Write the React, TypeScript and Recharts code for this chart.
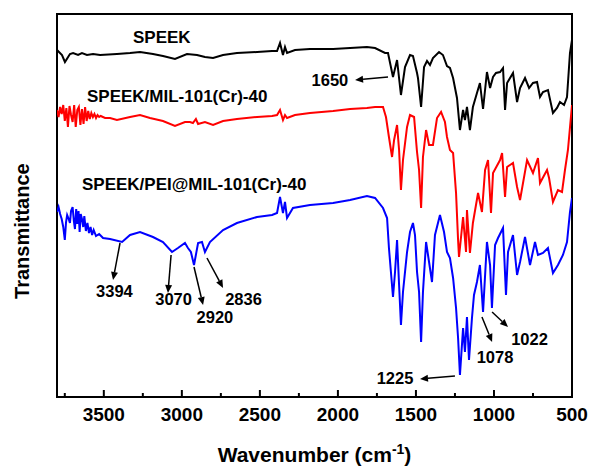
import React from 'react';
import { LineChart, Line, XAxis, YAxis, ReferenceArea, ReferenceDot, ReferenceLine } from 'recharts';

// wavenumber (cm-1) and transmittance (a.u., curves offset)
const speekWn = [3800, 3768, 3749, 3717, 3697, 3665, 3640, 3608, 3569, 3524, 3416, 3332, 3268, 3185, 3121, 3044, 2967, 2903, 2852, 2800, 2736, 2647, 2518, 2422, 2390, 2371, 2352, 2339, 2326, 2275, 2179, 2031, 1922, 1814, 1762, 1698, 1679, 1647, 1621, 1596, 1570, 1538, 1519, 1493, 1487, 1467, 1448, 1429, 1410, 1391, 1352, 1327, 1301, 1282, 1262, 1237, 1218, 1198, 1186, 1173, 1154, 1135, 1109, 1090, 1070, 1045, 1025, 1006, 987, 961, 942, 929, 916, 878, 852, 833, 801, 775, 750, 724, 705, 686, 654, 622, 596, 577, 551, 532, 513, 500];
const speekT = [347, 342, 335, 343, 344, 342, 344, 342, 343, 342, 343, 344, 345, 343, 341, 338, 343, 342, 340, 339, 342, 344, 345, 346, 346, 354, 342, 350, 344, 347, 348, 348, 349, 350, 349, 344, 344, 320, 337, 302, 330, 342, 341, 324, 319, 290, 330, 336, 332, 339, 345, 342, 331, 329, 319, 299, 267, 287, 277, 290, 267, 290, 304, 314, 288, 325, 309, 320, 324, 325, 329, 287, 314, 324, 295, 309, 319, 309, 314, 315, 300, 305, 307, 284, 289, 295, 292, 300, 344, 357];

const milWn = [3800, 3790, 3780, 3770, 3760, 3750, 3740, 3730, 3720, 3710, 3700, 3690, 3680, 3670, 3660, 3650, 3640, 3630, 3620, 3610, 3600, 3590, 3580, 3570, 3560, 3550, 3540, 3530, 3520, 3492, 3460, 3416, 3332, 3268, 3204, 3121, 3044, 2980, 2948, 2929, 2910, 2896, 2852, 2800, 2736, 2647, 2518, 2422, 2390, 2371, 2352, 2339, 2326, 2275, 2179, 2031, 1922, 1814, 1762, 1711, 1692, 1673, 1653, 1640, 1621, 1608, 1596, 1583, 1557, 1538, 1512, 1493, 1480, 1467, 1455, 1435, 1416, 1391, 1365, 1339, 1314, 1301, 1282, 1262, 1243, 1230, 1224, 1198, 1179, 1173, 1154, 1135, 1102, 1077, 1057, 1038, 1019, 1006, 961, 948, 929, 916, 878, 852, 833, 788, 750, 718, 705, 660, 647, 622, 590, 564, 545, 526, 500];
const milT = [287, 280, 290, 283, 292, 276, 289, 270, 291, 282, 275, 292, 270, 287, 290, 272, 288, 273, 290, 276, 286, 278, 284, 280, 283, 279, 282, 280, 281, 279, 279, 277, 280, 282, 279, 276, 271, 275, 275, 274, 278, 273, 275, 272, 276, 278, 280, 281, 282, 287, 277, 282, 279, 282, 284, 286, 288, 289, 290, 290, 280, 260, 240, 257, 272, 247, 207, 237, 270, 282, 280, 245, 227, 189, 240, 267, 252, 252, 279, 285, 275, 260, 247, 244, 204, 157, 140, 180, 145, 187, 144, 174, 204, 185, 227, 237, 184, 224, 237, 244, 200, 230, 234, 210, 197, 237, 224, 239, 214, 227, 219, 195, 207, 205, 227, 247, 292];

const peiWn = [3800, 3790, 3780, 3770, 3760, 3750, 3742, 3735, 3725, 3717, 3710, 3700, 3692, 3685, 3677, 3670, 3662, 3655, 3648, 3640, 3632, 3625, 3615, 3605, 3595, 3585, 3575, 3565, 3550, 3530, 3505, 3460, 3383, 3332, 3268, 3185, 3121, 3063, 3025, 2980, 2961, 2942, 2922, 2896, 2871, 2852, 2820, 2736, 2647, 2518, 2422, 2390, 2371, 2352, 2339, 2326, 2288, 2179, 2031, 1922, 1814, 1762, 1711, 1685, 1673, 1647, 1634, 1621, 1608, 1596, 1583, 1557, 1538, 1519, 1506, 1493, 1480, 1467, 1455, 1435, 1416, 1397, 1378, 1346, 1320, 1301, 1282, 1262, 1243, 1230, 1218, 1198, 1186, 1173, 1160, 1141, 1128, 1109, 1090, 1070, 1045, 1025, 1013, 993, 974, 942, 923, 910, 878, 852, 833, 801, 769, 737, 718, 686, 654, 622, 590, 558, 532, 513, 500];
const peiT = [185, 190, 183, 178, 170, 157, 175, 182, 178, 174, 186, 190, 176, 168, 188, 173, 186, 165, 183, 178, 170, 181, 166, 174, 164, 170, 162, 167, 161, 163, 159, 158, 155, 162, 165, 160, 155, 145, 149, 154, 149, 145, 132, 154, 155, 145, 155, 167, 174, 180, 182, 184, 200, 184, 195, 179, 189, 192, 194, 197, 201, 199, 189, 179, 149, 100, 125, 157, 112, 72, 105, 145, 165, 174, 162, 125, 105, 55, 105, 155, 135, 115, 162, 182, 165, 145, 139, 119, 89, 59, 22, 69, 45, 80, 37, 79, 102, 115, 132, 85, 155, 132, 89, 152, 159, 169, 102, 145, 162, 122, 135, 160, 132, 155, 142, 144, 149, 124, 132, 142, 155, 185, 199];

const xTicks = [3750, 3500, 3250, 3000, 2750, 2500, 2250, 2000, 1750, 1500, 1250, 1000, 750, 500];

const seriesNames = ['SPEEK', 'SPEEK/MIL-101(Cr)-40', 'SPEEK/PEI@MIL-101(Cr)-40'];
const nameWn = [3313, 3608, 3640];
const nameT = [354, 295, 207];

const peakLabels = ['1650', '3394', '3070', '2920', '2836', '1225', '1078', '1022'];
const peakLabelWn = [2051, 3432, 3053, 2788, 2605, 1634, 993, 772];
const peakLabelT = [311, 100, 92, 74, 92, 13, 34, 52];
const arrowFromWn = [1679, 3396, 3069, 2922, 2839, 1250, 1077, 1012];
const arrowFromT = [320, 154, 142, 130, 139, 21, 80, 85];
const arrowToWn = [1890, 3441, 3089, 2864, 2736, 1474, 1012, 910];
const arrowToT = [317, 117, 104, 92, 109, 18, 55, 70];

const pts = (wn: number[], t: number[]) => wn.map((w, i) => ({ wn: w, t: t[i] }));

const FONT = '"Liberation Sans", Arial, sans-serif';

const XTick = (props: any) => {
  const { x, y, payload } = props;
  const major = payload.value % 500 === 0;
  return (
    <g>
      <line x1={x} y1={y} x2={x} y2={y - (major ? 7 : 4)} stroke="#000" strokeWidth={2} />
      {major && (
        <text x={x} y={y + 24} textAnchor="middle" fontFamily={FONT} fontWeight="bold" fontSize={19} fill="#000">
          {payload.value}
        </text>
      )}
    </g>
  );
};

const Arrow = (props: any) => {
  const { x1, y1, x2, y2 } = props;
  if ([x1, y1, x2, y2].some((v) => v == null || isNaN(v))) return null;
  const a = Math.atan2(y2 - y1, x2 - x1);
  const L = 8, W = 3.5;
  const bx = x2 - L * Math.cos(a), by = y2 - L * Math.sin(a);
  const p1 = `${bx + W * Math.sin(a)},${by - W * Math.cos(a)}`;
  const p2 = `${bx - W * Math.sin(a)},${by + W * Math.cos(a)}`;
  return (
    <g>
      <line x1={x1} y1={y1} x2={bx} y2={by} stroke="#000" strokeWidth={1.5} />
      <polygon points={`${x2},${y2} ${p1} ${p2}`} fill="#000" />
    </g>
  );
};

export default function App() {
  return (
    <div style={{ position: 'absolute', left: 0, top: 0, width: 591, height: 466, background: '#fff' }}>
      <LineChart width={591} height={466} margin={{ top: 14, right: 19, left: 0, bottom: 0 }}>
        <XAxis
          dataKey="wn"
          type="number"
          domain={[500, 3800]}
          reversed
          ticks={xTicks}
          interval={0}
          allowDataOverflow
          axisLine={false}
          tickLine={false}
          tickSize={0}
          tickMargin={0}
          height={69}
          tick={<XTick />}
          label={(p: any) => {
            const vb = p.viewBox;
            return (
              <text x={vb.x + vb.width / 2} y={vb.y + 65} textAnchor="middle" fontFamily={FONT} fontWeight="bold" fontSize={21} fill="#000">
                Wavenumber (cm<tspan dy={-8} fontSize={14}>-1</tspan><tspan dy={8}>)</tspan>
              </text>
            );
          }}
        />
        <YAxis
          type="number"
          domain={[0, 383]}
          allowDataOverflow
          width={57}
          tick={false}
          tickLine={false}
          axisLine={false}
          label={(p: any) => {
            const vb = p.viewBox;
            const cx = 29;
            const cy = vb.y + vb.height * 0.567;
            return (
              <text x={cx} y={cy} textAnchor="middle" transform={`rotate(-90 ${cx} ${cy})`} fontFamily={FONT} fontWeight="bold" fontSize={20} fill="#000">
                Transmittance
              </text>
            );
          }}
        />
        <ReferenceArea x1={3800} x2={500} y1={0} y2={383} fill="none" stroke="#000" strokeWidth={2} />
        <Line data={pts(speekWn, speekT)} dataKey="t" stroke="#000000" strokeWidth={2} dot={false} isAnimationActive={false} type="linear" />
        <Line data={pts(milWn, milT)} dataKey="t" stroke="#ff0000" strokeWidth={2} dot={false} isAnimationActive={false} type="linear" />
        <Line data={pts(peiWn, peiT)} dataKey="t" stroke="#0000ff" strokeWidth={2} dot={false} isAnimationActive={false} type="linear" />
        {seriesNames.map((n, i) => (
          <ReferenceDot
            key={n}
            x={nameWn[i]}
            y={nameT[i]}
            r={0}
            shape={(p: any) => (
              <text x={p.cx} y={p.cy} textAnchor="start" fontFamily={FONT} fontWeight="bold" fontSize={17} fill="#000">
                {n}
              </text>
            )}
          />
        ))}
        {peakLabels.map((n, i) => (
          <ReferenceDot
            key={n}
            x={peakLabelWn[i]}
            y={peakLabelT[i]}
            r={0}
            shape={(p: any) => (
              <text x={p.cx} y={p.cy} textAnchor="middle" fontFamily={FONT} fontWeight="bold" fontSize={16.5} fill="#000">
                {n}
              </text>
            )}
          />
        ))}
        {peakLabels.map((n, i) => (
          <ReferenceLine
            key={'a' + n}
            segment={[
              { x: arrowFromWn[i], y: arrowFromT[i] },
              { x: arrowToWn[i], y: arrowToT[i] },
            ]}
            shape={Arrow}
          />
        ))}
      </LineChart>
    </div>
  );
}
